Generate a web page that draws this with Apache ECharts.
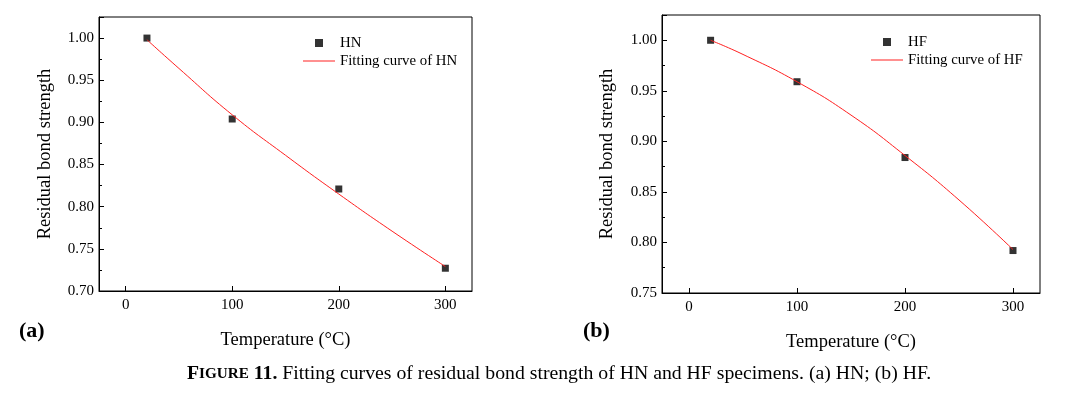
<!DOCTYPE html>
<html>
<head>
<meta charset="utf-8">
<script src="https://cdn.jsdelivr.net/npm/echarts@6/dist/echarts.min.js"></script>
<style>
  html, body { margin: 0; padding: 0; background: #fff; }
  #main { width: 1082px; height: 397px; }
</style>
</head>
<body>
<div id="main"></div>
<script>
// measured points (temperature in degC, residual bond strength)
var temps = [20, 100, 200, 300];
var hnValues = [1.000, 0.904, 0.821, 0.727];
var hfValues = [1.000, 0.959, 0.884, 0.792];

// fitted curves
var fitTemps = [20, 50, 100, 150, 200, 250, 300];
var hnFit = [0.998, 0.964, 0.909, 0.861, 0.815, 0.771, 0.729];
var hfFit = [1.000, 0.986, 0.959, 0.926, 0.886, 0.842, 0.793];

var xTicks = [0, 100, 200, 300];

var font = "'Liberation Serif', 'Times New Roman', serif";
var ink = '#000';
var red = '#ff2020';

function pairs (xs, ys) {
  return xs.map(function (x, i) { return [x, ys[i]] });
}

function xAxis (idx) {
  return {
    type: 'value', gridIndex: idx, min: -25, max: 325,
    name: 'Temperature (°C)', nameLocation: 'middle', nameGap: 40,
    nameTextStyle: { fontFamily: font, fontSize: 18.5, color: ink },
    axisLine: { onZero: false, lineStyle: { color: ink, width: 1 } },
    axisTick: { inside: true, length: 5, customValues: xTicks, lineStyle: { color: ink } },
    axisLabel: { customValues: xTicks, fontFamily: font, fontSize: 15, color: ink, margin: 7 },
    splitLine: { show: false }
  };
}

function yAxis (idx, min) {
  return {
    type: 'value', gridIndex: idx, min: min, max: 1.025, interval: 0.05,
    name: 'Residual bond strength', nameLocation: 'middle', nameGap: idx ? 45 : 44,
    nameTextStyle: { fontFamily: font, fontSize: 18.5, color: ink },
    axisLine: { onZero: false, lineStyle: { color: ink, width: 1 } },
    axisTick: { inside: true, length: 5, lineStyle: { color: ink } },
    minorTick: { show: true, splitNumber: 2, length: 3, lineStyle: { color: ink } },
    axisLabel: {
      fontFamily: font, fontSize: 15, color: ink, margin: 5, showMaxLabel: false,
      formatter: function (v) { return v > 1.001 ? '' : v.toFixed(2) }
    },
    splitLine: { show: false }
  };
}

function legend (left, top, names) {
  return {
    left: left, top: top, orient: 'vertical', padding: 0,
    itemWidth: 32, itemHeight: 8, itemGap: 3,
    textStyle: { fontFamily: font, fontSize: 14.8, color: ink },
    data: [
      { name: names[0], icon: 'path://M0,0h10v10h-10z', itemStyle: { color: '#000' } },
      { name: names[1], icon: 'path://M0,0h32v1h-32z', itemStyle: { color: red } }
    ]
  };
}

var chart = echarts.init(document.getElementById('main'));

chart.setOption({
  backgroundColor: '#fff',
  animation: false,
  grid: [
    { left: 99, top: 17, width: 373, height: 274, show: true, borderColor: ink, borderWidth: 1 },
    { left: 662, top: 15, width: 378, height: 278, show: true, borderColor: ink, borderWidth: 1 }
  ],
  xAxis: [xAxis(0), xAxis(1)],
  yAxis: [yAxis(0, 0.70), yAxis(1, 0.75)],
  legend: [
    legend(303, 35.5, ['HN', 'Fitting curve of HN']),
    legend(871, 34.5, ['HF', 'Fitting curve of HF'])
  ],
  series: [
    {
      name: 'Fitting curve of HN', type: 'line', xAxisIndex: 0, yAxisIndex: 0,
      data: pairs(fitTemps, hnFit), smooth: true, symbol: 'none',
      lineStyle: { color: red, width: 1 }, itemStyle: { color: red }
    },
    {
      name: 'HN', type: 'scatter', xAxisIndex: 0, yAxisIndex: 0,
      data: pairs(temps, hnValues), symbol: 'rect', symbolSize: 7,
      itemStyle: { color: '#000' }
    },
    {
      name: 'Fitting curve of HF', type: 'line', xAxisIndex: 1, yAxisIndex: 1,
      data: pairs(fitTemps, hfFit), smooth: true, symbol: 'none',
      lineStyle: { color: red, width: 1 }, itemStyle: { color: red }
    },
    {
      name: 'HF', type: 'scatter', xAxisIndex: 1, yAxisIndex: 1,
      data: pairs(temps, hfValues), symbol: 'rect', symbolSize: 7,
      itemStyle: { color: '#000' }
    }
  ],
  graphic: [
    { type: 'text', left: 19, top: 320, style: { text: '(a)', font: 'bold 22px ' + font, fill: '#000' } },
    { type: 'text', left: 583, top: 320, style: { text: '(b)', font: 'bold 22px ' + font, fill: '#000' } },
    {
      type: 'text', left: 187, top: 364,
      style: {
        text: '{b|F}{s|IGURE}{b| 11.}{n| Fitting curves of residual bond strength of HN and HF specimens. (a) HN; (b) HF.}',
        rich: {
          b: { fontFamily: font, fontSize: 19.75, fontWeight: 'bold', fill: '#000' },
          s: { fontFamily: font, fontSize: 15.2, fontWeight: 'bold', fill: '#000' },
          n: { fontFamily: font, fontSize: 19.75, fill: '#000' }
        }
      }
    }
  ]
});
</script>
</body>
</html>
